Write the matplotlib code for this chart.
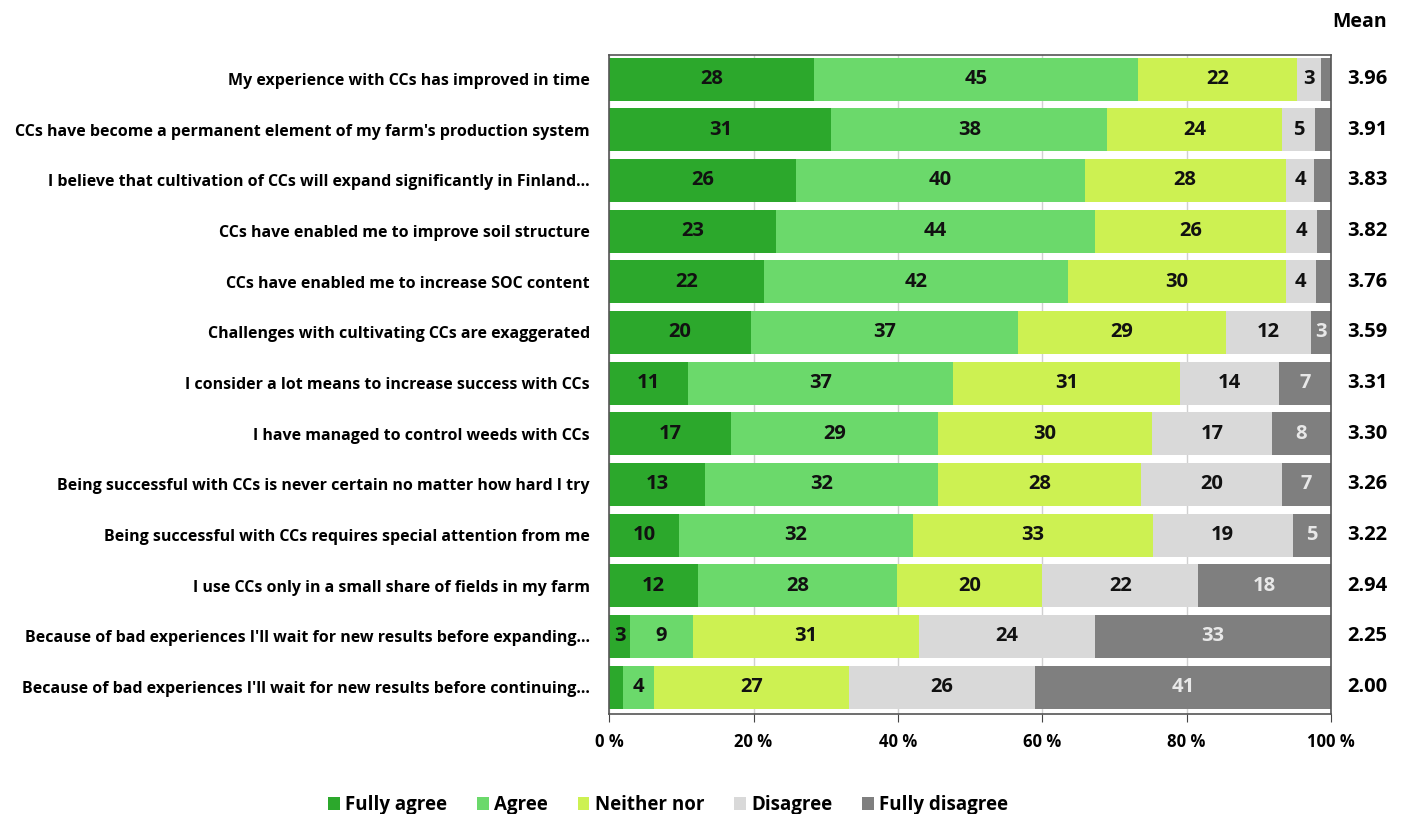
import matplotlib
matplotlib.use("Agg")
import matplotlib.pyplot as plt
import numpy as np

plt.rcParams['font.family'] = ['Open Sans', 'DejaVu Sans']

statements = [
    "My experience with CCs has improved in time",
    "CCs have become a permanent element of my farm's production system",
    "I believe that cultivation of CCs will expand significantly in Finland...",
    "CCs have enabled me to improve soil structure",
    "CCs have enabled me to increase SOC content",
    "Challenges with cultivating CCs are exaggerated",
    "I consider a lot means to increase success with CCs",
    "I have managed to control weeds with CCs",
    "Being successful with CCs is never certain no matter how hard I try",
    "Being successful with CCs requires special attention from me",
    "I use CCs only in a small share of fields in my farm",
    "Because of bad experiences I'll wait for new results before expanding...",
    "Because of bad experiences I'll wait for new results before continuing...",
]
fully_agree = [28.4, 30.8, 25.9, 23.1, 21.5, 19.6, 10.9, 16.9, 13.3, 9.7, 12.3, 2.9, 1.9]
agree = [44.9, 38.2, 40.0, 44.2, 42.0, 37.0, 36.8, 28.7, 32.3, 32.4, 27.6, 8.7, 4.3]
neither = [22.0, 24.2, 27.8, 26.5, 30.2, 28.8, 31.4, 29.6, 28.1, 33.2, 20.1, 31.3, 27.0]
disagree = [3.3, 4.6, 4.0, 4.2, 4.2, 11.8, 13.7, 16.6, 19.5, 19.4, 21.6, 24.4, 25.8]
fully_disagree = [1.4, 2.2, 2.3, 2.0, 2.1, 2.8, 7.2, 8.2, 6.8, 5.3, 18.4, 32.7, 41.0]
means = ["3.96", "3.91", "3.83", "3.82", "3.76", "3.59", "3.31", "3.30", "3.26", "3.22", "2.94", "2.25", "2.00"]

series = [
    ("Fully agree", fully_agree, "#2ca82c", "#111111"),
    ("Agree", agree, "#6bd96b", "#111111"),
    ("Neither nor", neither, "#cdf152", "#111111"),
    ("Disagree", disagree, "#d9d9d9", "#111111"),
    ("Fully disagree", fully_disagree, "#7f7f7f", "#e8e8e8"),
]

fig = plt.figure(figsize=(14.1, 8.14), dpi=100)
ax = fig.add_axes([0.432, 0.123, 0.512, 0.809])

y = np.arange(len(statements))
left = np.zeros(len(statements))
for name, vals, color, tcolor in series:
    vals = np.array(vals)
    ax.barh(y, vals, left=left, height=0.85, color=color, label=name, zorder=2)
    for yi, v, l in zip(y, vals, left):
        if v >= 2.5:
            ax.text(l + v / 2, yi, f"{v:.0f}", ha="center", va="center",
                    fontsize=14.5, fontweight="bold", color=tcolor, zorder=3)
    left += vals

ax.set_xlim(0, 100)
ax.set_ylim(len(statements) - 0.5 + 0.03, -0.47)
ax.set_yticks(y)
ax.set_yticklabels(statements, fontsize=11.5, fontweight="bold")
ax.set_xticks(np.arange(0, 101, 20))
ax.set_xticklabels([f"{t} %" for t in range(0, 101, 20)], fontsize=12, fontweight="bold")
ax.tick_params(axis="y", length=0, pad=14)
ax.tick_params(axis="x", length=6, color="#444444", pad=8)
ax.grid(axis="x", color="#d0d0d0", linewidth=1, zorder=0)
for s in ax.spines.values():
    s.set_color("#555555")
    s.set_linewidth(1.2)

# mean column
ax.text(1.04, 1.05, "Mean", transform=ax.transAxes, ha="center", va="center",
        fontsize=14, fontweight="bold")
for yi, m in zip(y, means):
    ax.text(1.05, yi, m, transform=ax.get_yaxis_transform(), ha="center", va="center",
            fontsize=14.5, fontweight="bold")

ax.legend(loc="center", bbox_to_anchor=(0.082, -0.138), ncol=5, frameon=False,
          prop={"size": 13.5, "weight": "bold"}, handlelength=0.6, handleheight=0.7,
          handletextpad=0.3, columnspacing=1.6, borderpad=0.1)

fig.savefig("out.png", dpi=100)
